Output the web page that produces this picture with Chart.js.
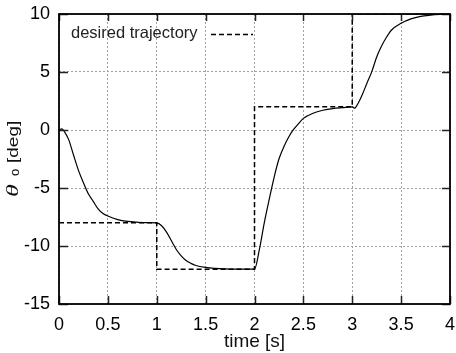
<!DOCTYPE html>
<html>
<head>
<meta charset="utf-8">
<script src="https://cdn.jsdelivr.net/npm/chart.js@4/dist/chart.umd.min.js"></script>
<style>
  html, body { margin: 0; padding: 0; background: #fff; overflow: hidden; }
  #chart { display: block; width: 456px; height: 353px; }
</style>
</head>
<body>
<canvas id="chart" width="456" height="353"></canvas>
<script>
// time axis ticks and theta axis ticks
const xTicks = [0, 0.5, 1, 1.5, 2, 2.5, 3, 3.5, 4];
const yTicks = [-15, -10, -5, 0, 5, 10];

// desired trajectory (step reference)
const desiredTime = [0, 1, 1, 2, 2, 3, 3, 4];
const desiredTheta = [-8, -8, -12, -12, 2, 2, 10, 10];

const responseTime = [
  0, 0.03, 0.06, 0.1, 0.15, 0.2, 0.25, 0.3, 0.35, 0.4, 0.45, 0.5, 0.6, 0.7, 0.8, 0.9, 1.0,
  1.05, 1.1, 1.15, 1.2, 1.25, 1.3, 1.35, 1.4, 1.5, 1.6, 1.7, 1.8, 2.0,
  2.05, 2.1, 2.15, 2.2, 2.25, 2.3, 2.35, 2.4, 2.45, 2.5, 2.6, 2.7, 2.8, 2.9, 3.0,
  3.025, 3.05, 3.1, 3.15, 3.2, 3.25, 3.3, 3.35, 3.4, 3.5, 3.6, 3.7, 3.8, 3.9, 4.0
];
const responseTheta = [
  0, 0.1, -0.2, -0.85, -2.2, -3.5, -4.55, -5.5, -6.15, -6.8, -7.2, -7.42, -7.72, -7.88, -7.95, -7.99, -8,
  -8.25, -8.8, -9.55, -10.3, -10.85, -11.25, -11.5, -11.68, -11.85, -11.93, -11.97, -11.99, -12,
  -10.3, -8.0, -6.0, -4.1, -2.5, -1.45, -0.6, 0.05, 0.55, 1.0, 1.45, 1.7, 1.85, 1.93, 2.0,
  1.88, 2.15, 3.0, 4.03, 5.03, 6.3, 7.25, 8.0, 8.6, 9.2, 9.58, 9.8, 9.9, 9.96, 10
];

const SANS = "'Liberation Sans', Arial, Helvetica, sans-serif";

// frame, inward ticks, legend and axis titles
const decorations = {
  id: 'decorations',
  afterDraw(chart) {
    const ctx = chart.ctx;
    const a = chart.chartArea;
    const xs = chart.scales.x, ys = chart.scales.y;
    ctx.save();

    // inward tick marks on all four sides
    ctx.strokeStyle = '#222';
    ctx.lineWidth = 1.5;
    ctx.beginPath();
    xTicks.forEach(v => {
      const px = Math.round(xs.getPixelForValue(v)) + 0.5;
      ctx.moveTo(px, a.bottom); ctx.lineTo(px, a.bottom - 8);
      ctx.moveTo(px, a.top); ctx.lineTo(px, a.top + 7);
    });
    yTicks.forEach(v => {
      const py = Math.round(ys.getPixelForValue(v)) + 0.5;
      ctx.moveTo(a.left, py); ctx.lineTo(a.left + 9, py);
      ctx.moveTo(a.right, py); ctx.lineTo(a.right - 8, py);
    });
    ctx.stroke();

    // frame
    ctx.strokeStyle = '#000';
    ctx.lineWidth = 1.8;
    ctx.strokeRect(a.left, a.top, a.right - a.left, a.bottom - a.top);

    // legend
    ctx.fillStyle = '#222';
    ctx.font = '16.5px ' + SANS;
    ctx.textAlign = 'left';
    ctx.textBaseline = 'alphabetic';
    ctx.fillText('desired trajectory', a.left + 12, a.top + 24);
    ctx.strokeStyle = '#000';
    ctx.lineWidth = 1.5;
    ctx.setLineDash([5, 3]);
    ctx.beginPath();
    ctx.moveTo(a.left + 152, a.top + 20.5);
    ctx.lineTo(a.left + 194, a.top + 20.5);
    ctx.stroke();
    ctx.setLineDash([]);

    // x title
    ctx.fillStyle = '#111';
    ctx.font = '19px ' + SANS;
    ctx.textAlign = 'center';
    ctx.fillText('time [s]', (a.left + a.right) / 2, 347);

    // y title: theta_o [deg], rotated
    ctx.translate(18, 197);
    ctx.rotate(-Math.PI / 2);
    ctx.textAlign = 'left';
    ctx.save();
    ctx.scale(1, 0.68);
    ctx.font = 'italic 26px "Liberation Serif", "Times New Roman", serif';
    ctx.fillText('\u03B8', 0, 0);
    ctx.restore();
    ctx.font = '13px ' + SANS;
    ctx.fillText('o', 21, 1);
    ctx.save();
    ctx.scale(1, 0.75);
    ctx.font = '19px ' + SANS;
    ctx.fillText('[deg]', 34, 0);
    ctx.restore();

    ctx.restore();
  }
};

const gridOpts = { color: '#a0a0a0', lineWidth: 1, drawTicks: false };
const borderOpts = { display: false, dash: [2, 2] };

new Chart(document.getElementById('chart'), {
  type: 'line',
  data: {
    datasets: [
      {
        label: 'response',
        data: responseTime.map((t, i) => ({ x: t, y: responseTheta[i] })),
        borderColor: '#000',
        borderWidth: 1.2,
        pointRadius: 0,
        cubicInterpolationMode: 'monotone',
        fill: false
      },
      {
        label: 'desired trajectory',
        data: desiredTime.map((t, i) => ({ x: t, y: desiredTheta[i] })),
        borderColor: '#000',
        borderWidth: 1.5,
        borderDash: [5, 3],
        pointRadius: 0,
        tension: 0,
        fill: false
      }
    ]
  },
  options: {
    responsive: false,
    maintainAspectRatio: false,
    animation: false,
    devicePixelRatio: 1,
    layout: { padding: { top: 14, right: 6, left: 0, bottom: 0 } },
    plugins: { legend: { display: false }, tooltip: { enabled: false } },
    scales: {
      x: {
        type: 'linear',
        min: 0, max: 4,
        afterBuildTicks: s => { s.ticks = xTicks.map(v => ({ value: v })); },
        afterFit: s => { s.height = 49; s.paddingLeft = 0; s.paddingRight = 0; },
        grid: gridOpts,
        border: borderOpts,
        ticks: {
          padding: 10,
          maxRotation: 0,
          autoSkip: false,
          color: '#000',
          font: { family: SANS, size: 18 },
          callback: v => String(v)
        }
      },
      y: {
        type: 'linear',
        min: -15, max: 10,
        afterBuildTicks: s => { s.ticks = yTicks.map(v => ({ value: v })); },
        afterFit: s => { s.width = 59; s.paddingTop = 0; s.paddingBottom = 0; },
        grid: gridOpts,
        border: borderOpts,
        ticks: {
          padding: 9,
          autoSkip: false,
          color: '#000',
          font: { family: SANS, size: 18 },
          callback: v => String(v)
        }
      }
    }
  },
  plugins: [decorations]
});
</script>
</body>
</html>
